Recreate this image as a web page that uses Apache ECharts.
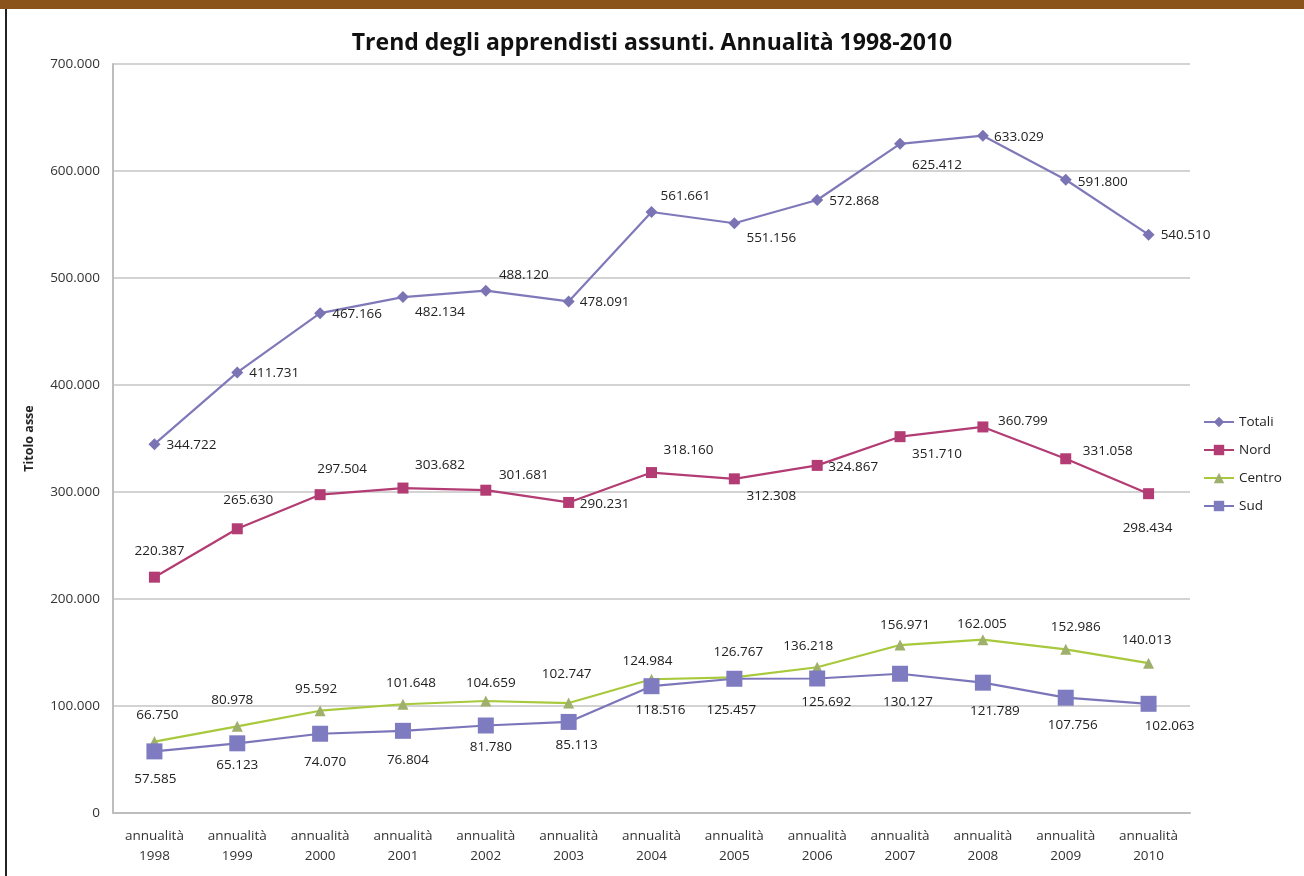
<!DOCTYPE html>
<html>
<head>
<meta charset="utf-8">
<script src="https://cdn.jsdelivr.net/npm/echarts@6/dist/echarts.min.js"></script>
<style>
  html, body { margin: 0; padding: 0; background: #fff; }
  #chart { width: 1304px; height: 876px; }
</style>
</head>
<body>
<div id="chart"></div>
<script>
// Apprendisti assunti per annualità e ripartizione territoriale
const categories = ['annualità\n1998', 'annualità\n1999', 'annualità\n2000', 'annualità\n2001',
  'annualità\n2002', 'annualità\n2003', 'annualità\n2004', 'annualità\n2005', 'annualità\n2006',
  'annualità\n2007', 'annualità\n2008', 'annualità\n2009', 'annualità\n2010'];

const totali = [344722, 411731, 467166, 482134, 488120, 478091, 561661, 551156, 572868, 625412, 633029, 591800, 540510];
const nord   = [220387, 265630, 297504, 303682, 301681, 290231, 318160, 312308, 324867, 351710, 360799, 331058, 298434];
const centro = [66750, 80978, 95592, 101648, 104659, 102747, 124984, 126767, 136218, 156971, 162005, 152986, 140013];
const sud    = [57585, 65123, 74070, 76804, 81780, 85113, 118516, 125457, 125692, 130127, 121789, 107756, 102063];

// where each value label sits relative to its point (px)
const totaliLabelOffsets = [[37,1],[37,1],[37,1],[37,15],[38,-16],[36,1],[34,-16],[37,15],[37,1],[37,21],[36,1],[37,2],[37,1]];
const nordLabelOffsets   = [[5,-26],[11,-29],[22,-26],[37,-23],[38,-15],[36,2],[37,-22],[37,17],[36,2],[37,17],[40,-6],[42,-8],[-1,34]];
const centroLabelOffsets = [[3,-26],[-5,-26],[-4,-22],[8,-21],[5,-18],[-2,-29],[-4,-18],[4,-25],[-9,-21],[5,-20],[-1,-15],[10,-22],[-2,-23]];
const sudLabelOffsets    = [[1,28],[0,22],[5,28],[5,29],[5,22],[8,23],[9,24],[-3,31],[9,24],[8,28],[12,28],[7,27],[21,22]];

function fmtIt(v) {
  return String(Math.round(v)).replace(/\B(?=(\d{3})+(?!\d))/g, '.');
}

const FONT = 'Open Sans';

function withLabels(values, offsets) {
  return values.map((v, i) => ({ value: v, label: { offset: offsets[i] } }));
}

function makeSeries(name, values, offsets, lineColor, markColor, symbol, symbolSize) {
  return {
    name: name,
    type: 'line',
    data: withLabels(values, offsets),
    symbol: symbol,
    symbolSize: symbolSize,
    lineStyle: { color: lineColor, width: 2.2 },
    itemStyle: { color: markColor, borderWidth: 0 },
    color: lineColor,
    z: 3,
    label: {
      show: true,
      position: 'inside',
      color: '#222',
      fontFamily: FONT,
      fontSize: 13.5,
      formatter: p => fmtIt(p.value)
    },
    emphasis: { disabled: true },
    animation: false
  };
}

const chart = echarts.init(document.getElementById('chart'), null, { renderer: 'canvas' });

chart.setOption({
  backgroundColor: '#ffffff',
  animation: false,
  title: {
    text: 'Trend degli apprendisti assunti. Annualità 1998-2010',
    left: 'center',
    top: 27,
    textStyle: { fontFamily: FONT, fontWeight: 'bold', fontSize: 23, color: '#111' }
  },
  graphic: [
    { type: 'rect', shape: { x: 0, y: 0, width: 1304, height: 9 }, style: { fill: '#8A531B' }, silent: true },
    { type: 'rect', shape: { x: 5, y: 9, width: 2, height: 867 }, style: { fill: '#222' }, silent: true }
  ],
  legend: {
    orient: 'vertical',
    left: 1198,
    top: 410,
    itemWidth: 30,
    itemHeight: 13,
    itemGap: 14,
    textStyle: { fontFamily: FONT, fontSize: 13.5, color: '#222' },
    data: ['Totali', 'Nord', 'Centro', 'Sud']
  },
  grid: { left: 113, right: 114, top: 64, bottom: 63 },
  xAxis: {
    type: 'category',
    data: categories,
    boundaryGap: true,
    axisLine: { lineStyle: { color: '#BDBDBD', width: 2 } },
    axisTick: { show: false },
    axisLabel: {
      fontFamily: FONT, fontSize: 13.5, color: '#333', margin: 13, lineHeight: 20
    }
  },
  yAxis: {
    type: 'value',
    min: 0,
    max: 700000,
    interval: 100000,
    name: 'Titolo asse',
    nameLocation: 'middle',
    nameGap: 77,
    nameRotate: 90,
    nameTextStyle: { fontFamily: FONT, fontWeight: 'bold', fontSize: 12.5, color: '#222' },
    axisLine: { show: true, lineStyle: { color: '#BDBDBD', width: 2 } },
    axisTick: { show: false },
    splitLine: { lineStyle: { color: '#C4C4C4', width: 1.5 } },
    axisLabel: {
      fontFamily: FONT, fontSize: 13.5, color: '#333', margin: 13,
      formatter: v => fmtIt(v)
    }
  },
  series: [
    makeSeries('Totali', totali, totaliLabelOffsets, '#7F79B9', '#7A74B4', 'diamond', 12),
    makeSeries('Nord', nord, nordLabelOffsets, '#B23C73', '#B23C73', 'rect', 11),
    makeSeries('Centro', centro, centroLabelOffsets, '#A8C93B', '#9EB06C', 'triangle', 11),
    makeSeries('Sud', sud, sudLabelOffsets, '#7B76BA', '#7F7BC0', 'rect', 16)
  ]
});
</script>
</body>
</html>
